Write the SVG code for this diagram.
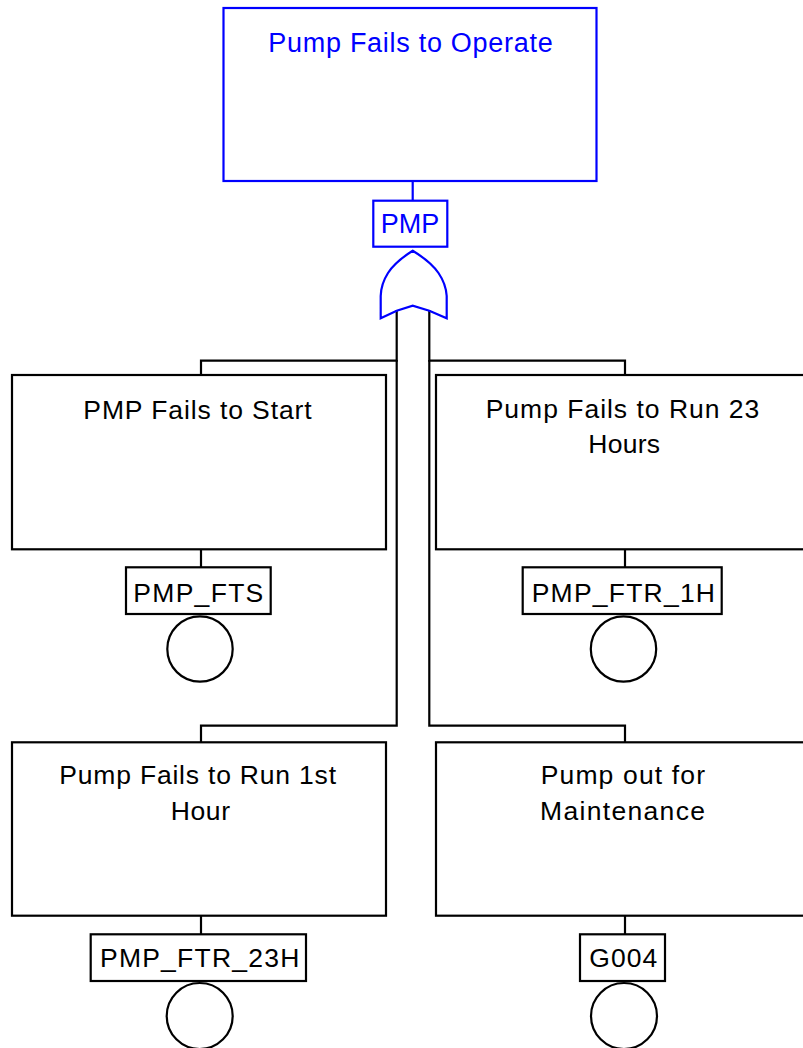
<svg xmlns="http://www.w3.org/2000/svg" width="803" height="1048" viewBox="0 0 803 1048">
<style>
.box{fill:#fff;stroke:#000;stroke-width:2.2}
.top{fill:#fff;stroke:#0000ff;stroke-width:2.2}
.lbl{fill:#fff;stroke:#000;stroke-width:2.2}
.t{font-family:"Liberation Sans",Arial,sans-serif;font-size:26.5px;fill:#000}
.tb{font-family:"Liberation Sans",Arial,sans-serif;font-size:27px;fill:#0000ff}
.ln{fill:none;stroke:#000;stroke-width:2.2}
.lb{fill:none;stroke:#0000ff;stroke-width:2.2}
.ev{fill:#fff;stroke:#000;stroke-width:2.2}
</style>
<rect width="803" height="1048" fill="#fff"/>
<g id="connectors">
<line class="lb" x1="412.7" y1="181" x2="412.7" y2="201"/>
<polyline class="ln" points="396.7,310 396.7,360.7 201,360.7 201,375"/>
<polyline class="ln" points="429.3,310 429.3,360.7 625,360.7 625,375"/>
<polyline class="ln" points="396.7,360 396.7,725.7 201,725.7 201,742.3"/>
<polyline class="ln" points="429.3,360 429.3,725.7 625,725.7 625,742.3"/>
<line class="ln" x1="201" y1="549.3" x2="201" y2="567.3"/>
<line class="ln" x1="625" y1="549.3" x2="625" y2="567.3"/>
<line class="ln" x1="201" y1="915.7" x2="201" y2="934.3"/>
<line class="ln" x1="625" y1="915.7" x2="625" y2="934.3"/>
</g>
<g id="top">
<rect class="top" x="223.5" y="8" width="373" height="173"/>
<text class="tb" x="268.3" y="51.7" textLength="284.4" lengthAdjust="spacing">Pump Fails to Operate</text>
</g>
<g id="gate-PMP">
<rect class="top" x="373.3" y="200.7" width="74" height="46"/>
<text class="tb" x="380.7" y="233.3" textLength="58.6" lengthAdjust="spacing">PMP</text>
<path class="lb" d="M412.7,250.7 Q395,262 388,273 Q381,284 380.7,296 L380.7,318.3 L396.7,310.7 L412.7,305.7 L429.3,310.7 L446.7,318.3 L446.7,296 Q446,284 438.5,273 Q431,262 412.7,250.7 Z" fill="#fff"/>
</g>
<g id="PMP_FTS">
<rect class="box" x="12" y="375" width="374" height="174.3"/>
<text class="t" x="83.3" y="419" textLength="228.4" lengthAdjust="spacing">PMP Fails to Start</text>
<rect class="lbl" x="126" y="567.3" width="144.7" height="46.7"/>
<text class="t" x="133.3" y="601.7" textLength="130" lengthAdjust="spacing">PMP_FTS</text>
<circle class="ev" cx="200" cy="649" r="32.7"/>
</g>
<g id="PMP_FTR_1H">
<rect class="box" x="436" y="375" width="374" height="174.3"/>
<text class="t" x="485.7" y="418" textLength="273.6" lengthAdjust="spacing">Pump Fails to Run 23</text>
<text class="t" x="588.3" y="453" textLength="71.7" lengthAdjust="spacing">Hours</text>
<rect class="lbl" x="522.7" y="567.3" width="199" height="46.7"/>
<text class="t" x="531.7" y="601.7" textLength="183.3" lengthAdjust="spacing">PMP_FTR_1H</text>
<circle class="ev" cx="623.5" cy="649" r="32.7"/>
</g>
<g id="PMP_FTR_23H">
<rect class="box" x="12" y="742.3" width="374" height="173.4"/>
<text class="t" x="59.3" y="784" textLength="276.7" lengthAdjust="spacing">Pump Fails to Run 1st</text>
<text class="t" x="170.7" y="820" textLength="59.3" lengthAdjust="spacing">Hour</text>
<rect class="lbl" x="90.7" y="934.3" width="215.3" height="46.7"/>
<text class="t" x="100" y="966.7" textLength="199.3" lengthAdjust="spacing">PMP_FTR_23H</text>
<circle class="ev" cx="199.7" cy="1016" r="33"/>
</g>
<g id="G004">
<rect class="box" x="436" y="742.3" width="374" height="173.4"/>
<text class="t" x="540.7" y="784" textLength="164.3" lengthAdjust="spacing">Pump out for</text>
<text class="t" x="540" y="820" textLength="165" lengthAdjust="spacing">Maintenance</text>
<rect class="lbl" x="580" y="934.3" width="85" height="46.7"/>
<text class="t" x="589.3" y="966.7" textLength="68" lengthAdjust="spacing">G004</text>
<circle class="ev" cx="624" cy="1016" r="33"/>
</g>
</svg>
